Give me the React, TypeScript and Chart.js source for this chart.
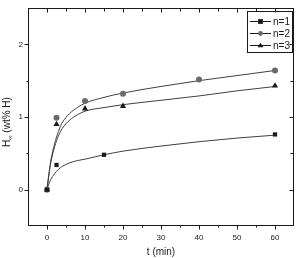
import { useEffect, useRef } from "react";
import { Chart, registerables } from "chart.js";

Chart.register(...registerables);

// Measured uptake points (time in min, capacity in wt% H)
const n1Times = [0, 2.5, 15, 60];
const n1Values = [0, 0.34, 0.48, 0.76];
const n2Times = [0, 2.5, 10, 20, 40, 60];
const n2Values = [0, 0.99, 1.22, 1.32, 1.515, 1.64];
const n3Times = [0, 2.5, 10, 20, 60];
const n3Values = [0, 0.9, 1.115, 1.15, 1.43];

// Fitted kinetic curves, sampled along time
const fitTimes = [0, 0.5, 1, 2, 3, 4, 6, 8, 10, 15, 20, 30, 40, 50, 60];
const n1Fit = [0, 0.08, 0.14, 0.22, 0.28, 0.32, 0.37, 0.4, 0.42, 0.48, 0.53, 0.6, 0.66, 0.71, 0.75];
const n2Fit = [0, 0.22, 0.4, 0.63, 0.8, 0.92, 1.05, 1.13, 1.19, 1.27, 1.33, 1.42, 1.5, 1.57, 1.64];
const n3Fit = [0, 0.2, 0.37, 0.59, 0.74, 0.84, 0.96, 1.03, 1.08, 1.13, 1.17, 1.23, 1.29, 1.36, 1.42];

const xMajor = [0, 10, 20, 30, 40, 50, 60];
const xMinor = [5, 15, 25, 35, 45, 55];
const yMajor = [0, 1, 2];
const yMinor = [0.5, 1.5];

const seriesNames = ["n=1", "n=2", "n=3"];

const toPoints = (xs: number[], ys: number[]) => xs.map((x, i) => ({ x, y: ys[i] }));

const FONT = "'Liberation Sans', Arial, sans-serif";
const INK = "#1a1a1a";
const GREY = "#6a6a6a";
const CURVE = "#404040";

const markerStyles = [
  { style: "rect", color: INK, radius: 3 },
  { style: "circle", color: GREY, radius: 3 },
  { style: "triangle", color: INK, radius: 3.6 },
];

function drawMarker(ctx: CanvasRenderingContext2D, style: string, r: number, x: number, y: number) {
  ctx.beginPath();
  if (style === "rect") {
    ctx.rect(x - r, y - r, 2 * r, 2 * r);
  } else if (style === "circle") {
    ctx.arc(x, y, r, 0, Math.PI * 2);
  } else {
    const h = r * 1.6;
    ctx.moveTo(x, y - h * 0.6);
    ctx.lineTo(x + r, y + h * 0.4);
    ctx.lineTo(x - r, y + h * 0.4);
    ctx.closePath();
  }
  ctx.fill();
}

const framePlugin = {
  id: "frameAxes",
  afterDraw(chart: any) {
    const { ctx, chartArea: a, scales } = chart;
    const xs = scales.x;
    const ys = scales.y;
    const L = Math.round(a.left) + 0.5;
    const R = Math.round(a.right) - 0.5;
    const T = Math.round(a.top) + 0.5;
    const B = Math.round(a.bottom) - 0.5;
    ctx.save();
    ctx.strokeStyle = INK;
    ctx.lineWidth = 1;
    ctx.strokeRect(L, T, R - L, B - T);

    ctx.beginPath();
    const xTick = (v: number, outLen: number, inLen: number) => {
      const px = Math.round(xs.getPixelForValue(v)) + 0.5;
      ctx.moveTo(px, B);
      ctx.lineTo(px, B + outLen);
      ctx.moveTo(px, T);
      ctx.lineTo(px, T + inLen);
    };
    const yTick = (v: number, outLen: number, inLen: number) => {
      const py = Math.round(ys.getPixelForValue(v)) + 0.5;
      ctx.moveTo(L, py);
      ctx.lineTo(L - outLen, py);
      ctx.moveTo(R, py);
      ctx.lineTo(R - inLen, py);
    };
    xMajor.forEach((v) => xTick(v, 4, 4));
    xMinor.forEach((v) => xTick(v, 2, 3));
    yMajor.forEach((v) => yTick(v, 4, 4));
    yMinor.forEach((v) => yTick(v, 2, 3));
    ctx.stroke();

    ctx.fillStyle = INK;
    ctx.font = `8px ${FONT}`;
    ctx.textAlign = "center";
    ctx.textBaseline = "middle";
    xMajor.forEach((v) => ctx.fillText(String(v), xs.getPixelForValue(v), 237.5));
    ctx.textAlign = "right";
    yMajor.forEach((v) => ctx.fillText(String(v), 23, ys.getPixelForValue(v)));

    // Axis titles
    ctx.font = `10px ${FONT}`;
    ctx.textAlign = "center";
    ctx.fillText("t (min)", (a.left + a.right) / 2, 252);

    ctx.save();
    ctx.translate(7, 122);
    ctx.rotate(-Math.PI / 2);
    ctx.textAlign = "left";
    ctx.textBaseline = "middle";
    const head = "H";
    const sub = "\u221e";
    const tail = " (wt% H)";
    ctx.font = `10px ${FONT}`;
    const wHead = ctx.measureText(head).width;
    const wTail = ctx.measureText(tail).width;
    ctx.font = `6px ${FONT}`;
    const wSub = ctx.measureText(sub).width;
    let x0 = -(wHead + wSub + wTail) / 2;
    ctx.font = `10px ${FONT}`;
    ctx.fillText(head, x0, 0);
    x0 += wHead;
    ctx.font = `6px ${FONT}`;
    ctx.fillText(sub, x0, 3);
    x0 += wSub;
    ctx.font = `10px ${FONT}`;
    ctx.fillText(tail, x0, 0);
    ctx.restore();

    // Legend box with line + marker samples
    ctx.strokeRect(247.5, 11.5, 45, 41);
    const rows = [21, 33, 45];
    rows.forEach((ry, i) => {
      ctx.beginPath();
      ctx.moveTo(250, ry + 0.5);
      ctx.lineTo(271, ry + 0.5);
      ctx.strokeStyle = INK;
      ctx.stroke();
      const m = markerStyles[i];
      ctx.fillStyle = m.color;
      drawMarker(ctx, m.style, m.radius * 0.8, 260.5, ry + 0.5);
      ctx.fillStyle = INK;
      ctx.font = `10px ${FONT}`;
      ctx.textAlign = "left";
      ctx.textBaseline = "middle";
      ctx.fillText(seriesNames[i], 273, ry + 1);
    });
    ctx.restore();
  },
};

export default function App() {
  const canvasRef = useRef<HTMLCanvasElement | null>(null);

  useEffect(() => {
    const canvas = canvasRef.current;
    if (!canvas) return;
    const pointSets = [
      toPoints(n1Times, n1Values),
      toPoints(n2Times, n2Values),
      toPoints(n3Times, n3Values),
    ];
    const fitSets = [n1Fit, n2Fit, n3Fit].map((f) => toPoints(fitTimes, f));

    const chart = new Chart(canvas, {
      type: "scatter",
      data: {
        datasets: [
          ...pointSets.map((pts, i) => ({
            label: seriesNames[i],
            data: pts,
            showLine: false,
            pointStyle: markerStyles[i].style as any,
            pointRadius: markerStyles[i].radius,
            pointBackgroundColor: markerStyles[i].color,
            pointBorderColor: markerStyles[i].color,
            pointBorderWidth: 0,
          })),
          ...fitSets.map((pts, i) => ({
            label: seriesNames[i] + " fit",
            data: pts,
            showLine: true,
            borderColor: CURVE,
            borderWidth: 1,
            pointRadius: 0,
            cubicInterpolationMode: "monotone" as const,
          })),
        ],
      },
      options: {
        responsive: false,
        animation: false,
        devicePixelRatio: 1,
        layout: { padding: { left: 28, top: 8, right: 7, bottom: 32 } },
        plugins: { legend: { display: false }, tooltip: { enabled: false } },
        scales: {
          x: { type: "linear", min: -5, max: 65, display: false },
          y: { type: "linear", min: -0.5, max: 2.5, display: false },
        },
      },
      plugins: [framePlugin],
    });
    return () => chart.destroy();
  }, []);

  return (
    <div style={{ position: "fixed", left: 0, top: 0, width: 301, height: 258, background: "#fff" }}>
      <canvas ref={canvasRef} width={301} height={258} />
    </div>
  );
}
